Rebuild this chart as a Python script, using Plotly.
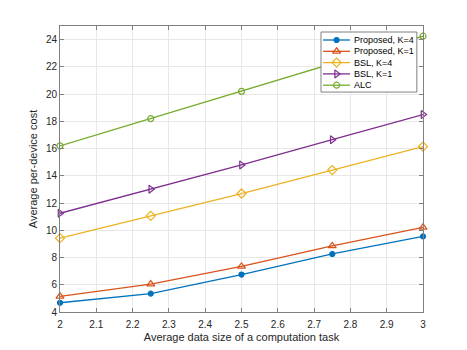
import plotly.graph_objects as go

x_vals = [2, 2.25, 2.5, 2.75, 3]

proposed_k4 = [4.68, 5.35, 6.75, 8.26, 9.55]
proposed_k1 = [5.15, 6.05, 7.35, 8.85, 10.22]
bsl_k4 = [9.42, 11.06, 12.7, 14.42, 16.15]
bsl_k1 = [11.25, 13.02, 14.8, 16.65, 18.5]
alc = [16.2, 18.2, 20.2, 22.2, 24.25]

names = ["Proposed, K=4", "Proposed, K=1", "BSL, K=4", "BSL, K=1", "ALC"]
colors = ["#0072BD", "#D95319", "#EDB120", "#7E2F8E", "#77AC30"]
symbols = ["circle", "triangle-up-open", "diamond-open", "triangle-right-open", "circle-open"]
sizes = [5, 7, 7, 7, 6]
values = [proposed_k4, proposed_k1, bsl_k4, bsl_k1, alc]

fig = go.Figure()
for name, y, color, sym, size in zip(names, values, colors, symbols, sizes):
    fig.add_trace(go.Scatter(
        x=x_vals, y=y, mode="lines+markers", name=name,
        line=dict(color=color, width=1.3),
        marker=dict(symbol=sym, size=size, color=color, line=dict(color=color, width=1.2)),
        cliponaxis=False, showlegend=False,
    ))

# MATLAB-like compact legend drawn on an overlay axis (0..1 = plot area)
bx0, bx1, by0, by1 = 0.719, 0.983, 0.769, 0.979
fig.add_trace(go.Scatter(
    x=[bx0, bx1, bx1, bx0, bx0], y=[by0, by0, by1, by1, by0],
    xaxis="x2", yaxis="y2", mode="lines", fill="toself", fillcolor="white",
    line=dict(color="#808080", width=1), showlegend=False, hoverinfo="skip",
))
row_y = [(312 - (40 + i * 11.3)) / 286 for i in range(len(names))]
lx0, lx1, mx, tx = 0.7245, 0.799, 0.762, 0.804
for name, color, sym, size, ry in zip(names, colors, symbols, sizes, row_y):
    fig.add_trace(go.Scatter(
        x=[lx0, lx1], y=[ry, ry], xaxis="x2", yaxis="y2", mode="lines",
        line=dict(color=color, width=1.3), showlegend=False, hoverinfo="skip",
    ))
    fig.add_trace(go.Scatter(
        x=[mx], y=[ry], xaxis="x2", yaxis="y2", mode="markers",
        marker=dict(symbol=sym, size=size, color=color, line=dict(color=color, width=1.2)),
        showlegend=False, hoverinfo="skip",
    ))
    fig.add_annotation(x=tx, y=ry, xref="paper", yref="paper", text=name,
                       showarrow=False, xanchor="left", yanchor="middle",
                       font=dict(size=9, color="#000000"))

axis_common = dict(
    showline=True, linecolor="#808080", linewidth=1, mirror="ticks",
    ticks="inside", ticklen=4, tickcolor="#808080",
    showgrid=True, gridcolor="#e8e8e8", zeroline=False,
    tickfont=dict(family="Liberation Sans, Arial", size=10, color="#262626"),
)

fig.update_layout(
    width=467, height=350,
    margin=dict(l=52, r=52, t=18, b=46, autoexpand=False),
    plot_bgcolor="white", paper_bgcolor="white",
    font=dict(family="Liberation Sans, Arial", color="#262626"),
    xaxis=dict(range=[2, 3], dtick=0.1, ticklabelstandoff=3, automargin=False,
               title=dict(text="Average data size of a computation task", font=dict(size=11), standoff=4),
               **axis_common),
    yaxis=dict(range=[4, 25], tickvals=list(range(4, 25, 2)), automargin=False,
               title=dict(text="Average per-device cost", font=dict(size=11), standoff=6),
               **axis_common),
    xaxis2=dict(overlaying="x", range=[0, 1], visible=False),
    yaxis2=dict(overlaying="y", range=[0, 1], visible=False),
    showlegend=False,
)

fig.write_html("out.html")
